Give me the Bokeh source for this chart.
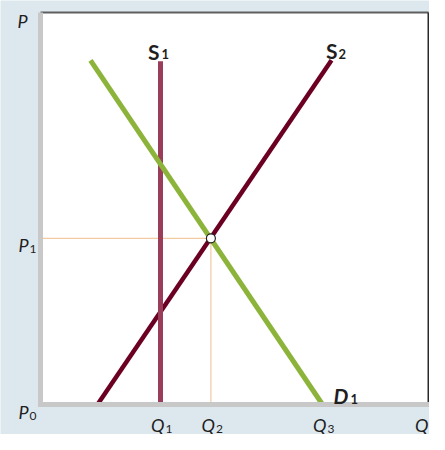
from bokeh.plotting import figure
from bokeh.models import Range1d
from bokeh.core.properties import value
from bokeh.embed import file_html
from bokeh.resources import INLINE

# ---- data (Q along x, P along y) ----
q_max = 9.7                         # visible right end of the quantity axis
p_max = 10.05                       # top of the price axis

q_ticks = [3.0, 4.26, 7.05]         # Q1, Q2, Q3
q_main = ["Q", "Q", "Q"]
q_sub = ["1", "2", "3"]
q_axis_label = ["Q"]

p_ticks = [0.0, 4.26]               # P0, P1
p_main = ["P", "P"]
p_sub = ["0", "1"]
p_axis_label = ["P"]

s1_q = [3.0, 3.0]
s1_p = [0.0, 8.8]
s2_q = [1.425, 7.275]
s2_p = [0.0, 8.825]
d1_q = [1.25, 7.05]
d1_p = [8.825, 0.0]
eq_q = [4.26]
eq_p = [4.26]

BG = "#dde8ee"
FONT = value("Lato")
INK = "#1f1f1f"

W, H = 429, 434
LEFT_PX, RIGHT_PX, TOP_PX, BOTTOM_PX = 40, 1, 12, 30
sx = (W - LEFT_PX - RIGHT_PX) / q_max
sy = (H - TOP_PX - BOTTOM_PX) / p_max

p = figure(width=W, height=H, output_backend="svg", toolbar_location=None,
           x_range=Range1d(-LEFT_PX / sx, q_max + RIGHT_PX / sx),
           y_range=Range1d(-BOTTOM_PX / sy, p_max + TOP_PX / sy),
           min_border=0, background_fill_color=BG, border_fill_color=BG,
           outline_line_color=None)
p.grid.visible = False
p.axis.visible = False

# plotting panel
p.quad(left=[0], right=[q_max], bottom=[0], top=[p_max], fill_color="white", line_color=None)

# guide lines to the equilibrium
p.line([0, eq_q[0]], [eq_p[0], eq_p[0]], line_color="#f2cba2", line_width=1.2)
p.line([eq_q[0], eq_q[0]], [0, eq_p[0]], line_color="#f2cba2", line_width=1.2)

# curves: S2 under S1 under D1
p.line(s2_q, s2_p, line_color="#6b0022", line_width=4.5)
p.line(s1_q, s1_p, line_color="#9a3d5b", line_width=5)
p.line(d1_q, d1_p, line_color="#8db43a", line_width=5)

p.scatter(eq_q, eq_p, size=9, fill_color="white", line_color="#222222", line_width=1.2)

# panel borders / axes
p.line([0, q_max], [p_max, p_max], line_color="#5e5e5e", line_width=2)
p.line([q_max, q_max], [0, p_max], line_color="#2a2a2a", line_width=2)
p.line([0, 0], [0, p_max], line_color="#c8c8c8", line_width=5)
p.line([0, q_max], [0, 0], line_color="#c8c8c8", line_width=5, line_cap="square")

# quantity labels
p.text(x=q_ticks, y=[0] * len(q_ticks), text=q_main, x_offset=4, y_offset=20,
       text_align="right", text_baseline="alphabetic", text_font=FONT,
       text_font_style="italic", text_font_size="18px", text_color=INK)
p.text(x=q_ticks, y=[0] * len(q_ticks), text=q_sub, x_offset=5, y_offset=24,
       text_align="left", text_baseline="alphabetic", text_font=FONT,
       text_font_size="12px", text_color=INK)
p.text(x=[q_max], y=[0], text=q_axis_label, x_offset=0, y_offset=20,
       text_align="right", text_baseline="alphabetic", text_font=FONT,
       text_font_style="italic", text_font_size="18px", text_color=INK)

# price labels
p.text(x=[0] * len(p_ticks), y=p_ticks, text=p_main, x_offset=-12, y_offset=7,
       text_align="right", text_baseline="alphabetic", text_font=FONT,
       text_font_style="italic", text_font_size="18px", text_color=INK)
p.text(x=[0] * len(p_ticks), y=p_ticks, text=p_sub, x_offset=-11, y_offset=11,
       text_align="left", text_baseline="alphabetic", text_font=FONT,
       text_font_size="12px", text_color=INK)
p.text(x=[0], y=[p_max], text=p_axis_label, x_offset=-13, y_offset=8,
       text_align="right", text_baseline="alphabetic", text_font=FONT,
       text_font_style="italic", text_font_size="18px", text_color=INK)

# curve labels, anchored at curve ends
p.text(x=[s1_q[1]], y=[s1_p[1]], text=["S"], x_offset=-1, y_offset=-10,
       text_align="right", text_baseline="alphabetic", text_font=FONT,
       text_font_style="bold", text_font_size="21px", text_color=INK)
p.text(x=[s1_q[1]], y=[s1_p[1]], text=["1"], x_offset=1, y_offset=-7,
       text_align="left", text_baseline="alphabetic", text_font=FONT,
       text_font_style="bold", text_font_size="13px", text_color=INK)
p.text(x=[s2_q[1]], y=[s2_p[1]], text=["S"], x_offset=6, y_offset=-10,
       text_align="right", text_baseline="alphabetic", text_font=FONT,
       text_font_style="bold", text_font_size="21px", text_color=INK)
p.text(x=[s2_q[1]], y=[s2_p[1]], text=["2"], x_offset=7, y_offset=-6,
       text_align="left", text_baseline="alphabetic", text_font=FONT,
       text_font_style="bold", text_font_size="13px", text_color=INK)
p.text(x=[d1_q[1]], y=[d1_p[1]], text=["D"], x_offset=11, y_offset=-9,
       text_align="left", text_baseline="alphabetic", text_font=FONT,
       text_font_style="bold italic", text_font_size="21px", text_color=INK)
p.text(x=[d1_q[1]], y=[d1_p[1]], text=["1"], x_offset=28, y_offset=-6,
       text_align="left", text_baseline="alphabetic", text_font=FONT,
       text_font_style="bold", text_font_size="13px", text_color=INK)

open("out.html", "w").write(file_html(p, INLINE))
